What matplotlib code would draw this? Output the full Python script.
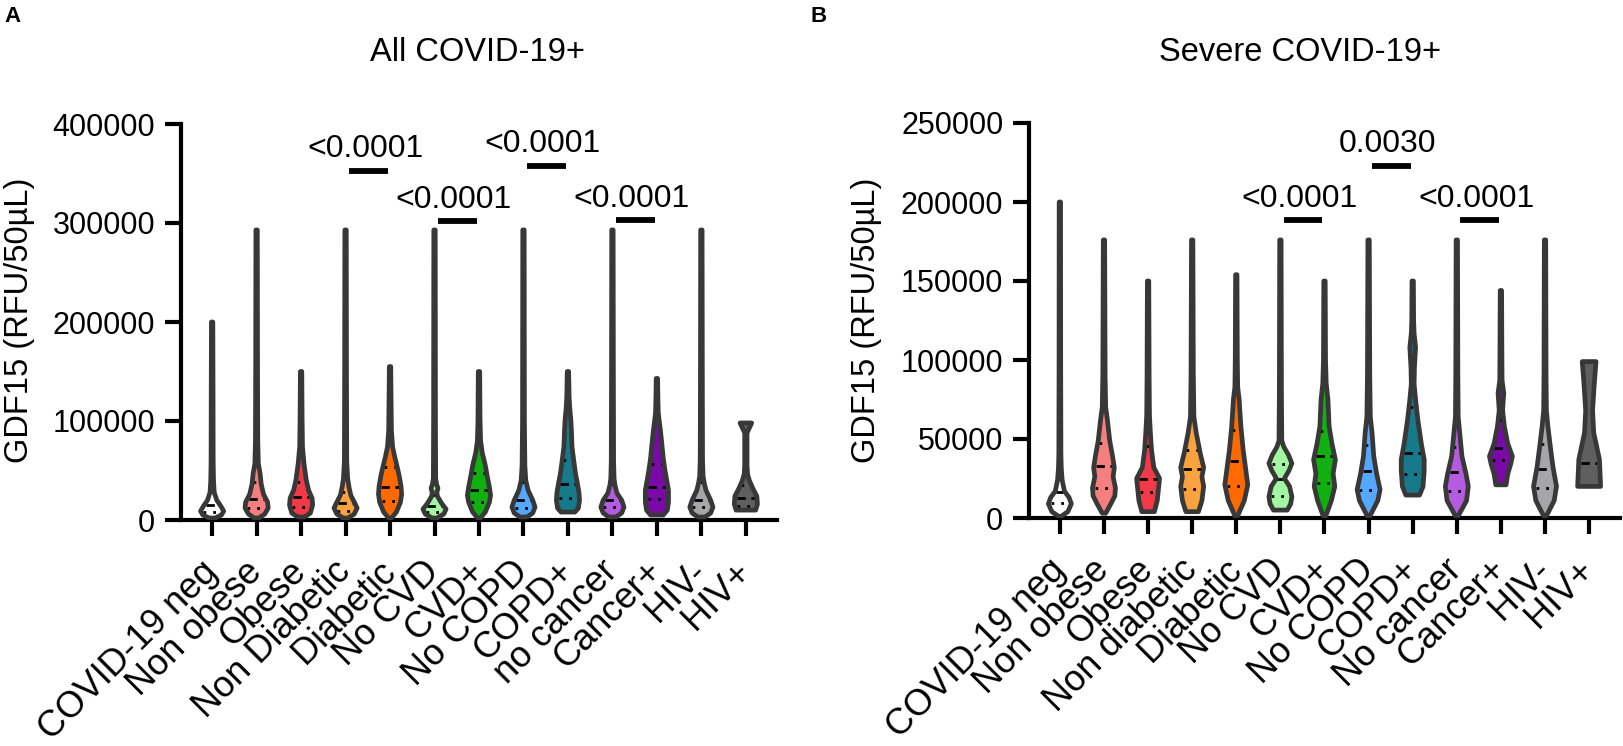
import matplotlib
matplotlib.use('Agg')

import numpy as np
import matplotlib.pyplot as plt

plt.rcParams['font.family'] = ['Liberation Sans', 'DejaVu Sans']

# categories
groups_a = ['COVID-19 neg', 'Non obese', 'Obese', 'Non Diabetic', 'Diabetic',
            'No CVD', 'CVD+', 'No COPD', 'COPD+', 'no cancer', 'Cancer+',
            'HIV-', 'HIV+']
groups_b = ['COVID-19 neg', 'Non obese', 'Obese', 'Non diabetic', 'Diabetic',
            'No CVD', 'CVD+', 'No COPD', 'COPD+', 'No cancer', 'Cancer+',
            'HIV-', 'HIV+']

# violin outlines: (GDF15 in thousands, relative width)
shapes_a = [
    [(2, 0.25), (5, 0.8), (9, 1.0), (14, 0.75), (20, 0.4), (28, 0.18), (40, 0.12), (60, 0.09), (120, 0.08), (200, 0.06)],
    [(2, 0.2), (6, 0.7), (12, 1.0), (18, 0.95), (26, 0.6), (36, 0.4), (47, 0.3), (57, 0.15), (80, 0.1), (150, 0.08), (293, 0.06)],
    [(3, 0.3), (7, 0.8), (15, 1.0), (22, 0.95), (30, 0.65), (40, 0.45), (57, 0.25), (74, 0.12), (100, 0.09), (150, 0.06)],
    [(2, 0.2), (6, 0.75), (12, 1.0), (17, 0.8), (25, 0.45), (33, 0.3), (42, 0.18), (60, 0.1), (150, 0.08), (293, 0.06)],
    [(1, 0.05), (8, 0.55), (18, 0.9), (26, 1.0), (34, 0.95), (44, 0.8), (52, 0.65), (64, 0.4), (74, 0.22), (90, 0.12), (120, 0.09), (155, 0.06)],
    [(2, 0.2), (6, 0.8), (11, 1.0), (17, 0.6), (24, 0.25), (28, 0.2), (32, 0.3), (36, 0.18), (42, 0.1), (100, 0.08), (293, 0.06)],
    [(1, 0.05), (8, 0.55), (18, 0.9), (25, 1.0), (33, 0.9), (45, 0.7), (55, 0.55), (68, 0.28), (80, 0.14), (100, 0.09), (150, 0.06)],
    [(3, 0.3), (7, 0.8), (13, 1.0), (20, 0.8), (30, 0.4), (40, 0.2), (55, 0.12), (100, 0.08), (293, 0.06)],
    [(8, 0.6), (12, 0.9), (20, 1.0), (28, 0.95), (38, 0.8), (47, 0.65), (60, 0.5), (74, 0.35), (90, 0.3), (101, 0.25), (114, 0.15), (125, 0.1), (150, 0.06)],
    [(3, 0.3), (7, 0.8), (13, 1.0), (20, 0.8), (27, 0.4), (35, 0.22), (42, 0.14), (60, 0.1), (150, 0.08), (293, 0.06)],
    [(5, 0.55), (10, 0.9), (18, 1.0), (30, 1.0), (40, 0.85), (50, 0.7), (62, 0.55), (74, 0.45), (91, 0.3), (100, 0.2), (108, 0.12), (120, 0.09), (143, 0.06)],
    [(3, 0.3), (7, 0.8), (13, 1.0), (20, 0.8), (30, 0.4), (37, 0.25), (44, 0.15), (60, 0.1), (150, 0.08), (293, 0.06)],
    [(10, 0.85), (16, 1.0), (24, 0.95), (32, 0.6), (40, 0.3), (46, 0.15), (55, 0.1), (88, 0.1), (93, 0.3), (98, 0.5)],
]
median_a = [15, 21, 23.5, 17, 33.6, 14.5, 30, 20, 36, 20, 33, 20, 22]
q1_a = [8.4, 12, 13.5, 9.5, 19.5, 8.4, 17.8, 12, 22, 12.7, 21, 12.7, 13.7]
q3_a = [28, 38, 38, 28, 54, 25, 47, 38, 61, 36, 57, 38, 35]

shapes_b = [
    [(1, 0.1), (4, 0.7), (9, 1.0), (13, 0.8), (17, 0.4), (24, 0.2), (32, 0.12), (41, 0.09), (100, 0.07), (200, 0.06)],
    [(3, 0.15), (9, 0.6), (14, 0.95), (19, 1.0), (26, 0.8), (32, 0.9), (39, 0.75), (49, 0.5), (62, 0.3), (70, 0.15), (90, 0.1), (176, 0.06)],
    [(4, 0.55), (11, 0.8), (18, 0.9), (25, 1.0), (32, 0.5), (43, 0.3), (54, 0.2), (65, 0.12), (90, 0.09), (150, 0.06)],
    [(4, 0.55), (11, 0.85), (20, 1.0), (26, 0.85), (32, 1.0), (41, 0.7), (54, 0.35), (64, 0.15), (90, 0.1), (176, 0.06)],
    [(1, 0.1), (11, 0.7), (21, 1.0), (32, 0.8), (43, 0.6), (58, 0.4), (75, 0.25), (83, 0.12), (100, 0.09), (154, 0.06)],
    [(5, 0.6), (9, 0.9), (13.5, 1.0), (20, 0.8), (25, 0.35), (30, 0.75), (34.6, 1.0), (40, 0.7), (45, 0.3), (49, 0.12), (80, 0.09), (176, 0.06)],
    [(1, 0.1), (11, 0.6), (20, 0.9), (28, 0.75), (37, 0.95), (47, 0.65), (58, 0.4), (75, 0.3), (85, 0.15), (100, 0.09), (150, 0.06)],
    [(1, 0.1), (11, 0.8), (18, 1.0), (28, 0.7), (39, 0.45), (54, 0.3), (64, 0.15), (90, 0.1), (176, 0.06)],
    [(14.5, 0.6), (20, 0.9), (30, 1.0), (37, 1.0), (47, 0.75), (62, 0.45), (75, 0.25), (85, 0.12), (95, 0.15), (108, 0.25), (117, 0.12), (125, 0.08), (150, 0.06)],
    [(1, 0.1), (11, 0.85), (20, 1.0), (28, 0.8), (39, 0.45), (54, 0.25), (64, 0.12), (90, 0.09), (176, 0.06)],
    [(21, 0.45), (28, 0.6), (34, 0.85), (39, 1.0), (47, 0.6), (58, 0.3), (68, 0.15), (74, 0.2), (79, 0.25), (87, 0.1), (110, 0.08), (144, 0.06)],
    [(1, 0.1), (11, 0.8), (20, 1.0), (32, 0.7), (43, 0.5), (58, 0.25), (68, 0.12), (90, 0.09), (176, 0.06)],
    [(20, 1.0), (37, 0.9), (54, 0.4), (68, 0.3), (85, 0.45), (99, 0.6)],
]
median_b = [16.7, 33, 25, 31, 36, 24.7, 39, 30, 41, 29, 44, 31, 35]
q1_b = [9.7, 18.8, 16.7, 18.4, 20, 14, 22, 18, 28, 17, 37, 19, 20]
q3_b = [32, 47.7, 45.8, 43, 56, 34, 55, 46, 70, 45, 62, 47, 99]

# p-value brackets: (left group, right group, height, label)
pvals_a = [(3, 4, 353000, '<0.0001'), (5, 6, 302000, '<0.0001'),
           (7, 8, 358000, '<0.0001'), (9, 10, 303000, '<0.0001')]
pvals_b = [(5, 6, 188600, '<0.0001'), (7, 8, 223000, '0.0030'),
           (9, 10, 188600, '<0.0001')]

fills = ['#ffffff', '#f47f7f', '#f03a47', '#f9a23f', '#ff6a00', '#a3f7a3',
         '#10b010', '#55a8ff', '#167a8b', '#b55be0', '#7a0aa8', '#a6a6a8',
         '#5f5f5f']
EDGE = '#383838'
HALF = 0.26


def draw_violins(ax, shapes, med, q1, q3):
    for i, shape in enumerate(shapes):
        y = np.array([p[0] for p in shape]) * 1000
        w = np.array([p[1] for p in shape]) * HALF
        ax.fill_betweenx(y, i - w, i + w, facecolor=fills[i],
                         edgecolor='none', zorder=2)
        # median dashed, quartiles dotted
        for val, ls in [(med[i], (0, (3, 2))), (q1[i], (0, (1, 2.5))),
                        (q3[i], (0, (1, 2.5)))]:
            hw = np.interp(val * 1000, y, w) * 0.8
            ax.plot([i - hw, i + hw], [val * 1000] * 2, color='black',
                    ls=ls, lw=2, zorder=3)
        ax.fill_betweenx(y, i - w, i + w, facecolor='none', edgecolor=EDGE,
                         lw=3.4, joinstyle='round', zorder=4)


def draw_pvals(ax, pvals):
    for i, j, y, label in pvals:
        ax.plot([i + 0.08, j - 0.05], [y, y], color='black', lw=4.2,
                solid_capstyle='butt', clip_on=False, zorder=5)
        ax.annotate(label, xy=((i + j) / 2, y), xytext=(-2, 9.5),
                    textcoords='offset points', ha='center', va='baseline',
                    fontsize=23, annotation_clip=False)


def style_axis(ax, groups, top, step):
    ax.set_xlim(-0.7, 12.7)
    ax.set_ylim(0, top)
    ax.set_yticks(np.arange(0, top + 1, step))
    ax.set_yticklabels([str(int(t)) for t in np.arange(0, top + 1, step)])
    ax.set_xticks(range(len(groups)))
    ax.set_xticklabels(groups, rotation=45, ha='right', va='center',
                       rotation_mode='anchor', fontsize=26)
    ax.spines[['top', 'right']].set_visible(False)
    ax.spines[['left', 'bottom']].set_linewidth(3)
    ax.tick_params(width=3, length=11.5, labelsize=22, pad=7)
    ax.tick_params(axis='x', labelsize=26, pad=22)


fig = plt.figure(figsize=(16.24, 7.46), dpi=100)
ax_a = fig.add_axes([181 / 1624, 1 - 520 / 746, 596 / 1624, 396 / 746])
ax_b = fig.add_axes([1029 / 1624, 1 - 518 / 746, 591 / 1624, 395 / 746])

draw_violins(ax_a, shapes_a, median_a, q1_a, q3_a)
draw_violins(ax_b, shapes_b, median_b, q1_b, q3_b)
draw_pvals(ax_a, pvals_a)
draw_pvals(ax_b, pvals_b)
style_axis(ax_a, groups_a, 400000, 100000)
style_axis(ax_b, groups_b, 250000, 50000)

fig.text(478 / 1624, 0.929, 'All COVID-19+', ha='center', va='center', fontsize=23.5)
fig.text(1300 / 1624, 0.929, 'Severe COVID-19+', ha='center', va='center', fontsize=23.5)
fig.text(20 / 1624, 0.571, 'GDF15 (RFU/50µL)', rotation=90, ha='center', va='center', fontsize=23.5)
fig.text(866 / 1624, 0.571, 'GDF15 (RFU/50µL)', rotation=90, ha='center', va='center', fontsize=23.5)
fig.text(4 / 1624, 1 - 6 / 746, 'A', ha='left', va='top', fontsize=16, fontweight='bold')
fig.text(811 / 1624, 1 - 6 / 746, 'B', ha='left', va='top', fontsize=16, fontweight='bold')

fig.savefig('out.png', dpi=100)
